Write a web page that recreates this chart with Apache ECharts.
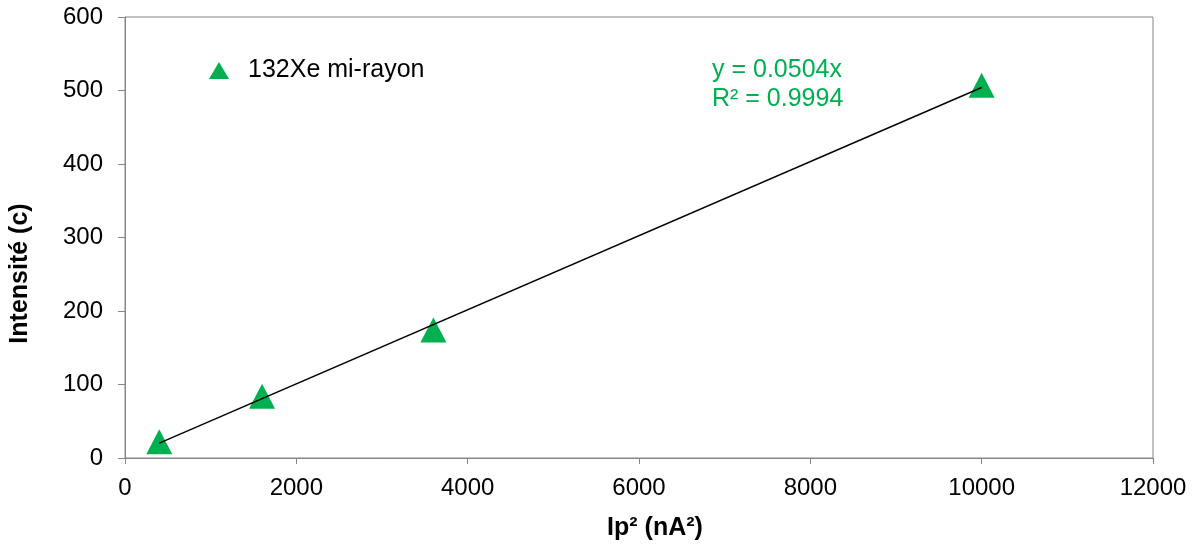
<!DOCTYPE html>
<html><head><meta charset="utf-8">
<script src="https://cdn.jsdelivr.net/npm/echarts@6/dist/echarts.min.js"></script>
<style>html,body{margin:0;padding:0;background:#fff}#c{width:1199px;height:546px}</style>
</head><body><div id="c"></div>
<script>
const seriesName = '132Xe mi-rayon';
const xValues = [400, 1600, 3600, 10000];
const yValues = [22, 84, 174, 507];
const trendSlope = 0.0504;
const trendRange = [400, 10000];
const equationLines = ['y = 0.0504x', 'R² = 0.9994'];
const xTicks = [0, 2000, 4000, 6000, 8000, 10000, 12000];
const yTicks = [0, 100, 200, 300, 400, 500, 600];

const green = '#00B050';
const axisGray = '#868686';
const font = '"Liberation Sans", Arial, sans-serif';

const chart = echarts.init(document.getElementById('c'), null, {renderer: 'canvas'});
const points = xValues.map((x, i) => [x, yValues[i]]);
const trend = trendRange.map(x => [x, trendSlope * x]);

chart.setOption({
  animation: false,
  textStyle: {fontFamily: font},
  grid: {left: 123, right: 46, top: 17, bottom: 88, show: true, borderColor: axisGray, borderWidth: 1},
  legend: {
    left: 204, top: 53, icon: 'triangle', itemWidth: 20, itemHeight: 17,
    data: [seriesName],
    textStyle: {fontSize: 25, color: '#000', fontFamily: font, padding: [0, 0, 0, 14]}
  },
  xAxis: {
    type: 'value', min: xTicks[0], max: xTicks[xTicks.length - 1], interval: 2000,
    name: 'Ip² (nA²)', nameLocation: 'middle', nameGap: 58,
    nameTextStyle: {fontSize: 25, fontWeight: 'bold', color: '#000', fontFamily: font, padding: [0, 0, 0, 32]},
    axisLine: {lineStyle: {color: axisGray, width: 1}},
    axisTick: {show: true, length: 6, lineStyle: {color: axisGray}},
    axisLabel: {fontSize: 24, color: '#000', margin: 18, fontFamily: font, formatter: v => String(v)},
    splitLine: {show: false}
  },
  yAxis: {
    type: 'value', min: yTicks[0], max: yTicks[yTicks.length - 1], interval: 100,
    name: 'Intensité (c)', nameLocation: 'middle', nameGap: 92,
    nameTextStyle: {fontSize: 25, fontWeight: 'bold', color: '#000', fontFamily: font, padding: [0, 72, 0, 0]},
    axisLine: {show: true, lineStyle: {color: axisGray, width: 1}},
    axisTick: {show: true, length: 7, lineStyle: {color: axisGray}},
    axisLabel: {fontSize: 24, color: '#000', margin: 22, fontFamily: font, formatter: v => String(v)},
    splitLine: {show: false}
  },
  series: [
    {
      name: 'trend', type: 'line', data: trend, symbol: 'none',
      lineStyle: {color: '#000', width: 1.5}, silent: true, z: 3
    },
    {
      name: seriesName, type: 'scatter', data: points, symbol: 'triangle',
      symbolSize: [26, 25], itemStyle: {color: green, opacity: 1}, z: 2
    }
  ],
  graphic: [{
    type: 'text', left: 712, top: 56,
    style: {text: equationLines.join('\n'), fill: green, font: '25px ' + font, lineHeight: 29}
  }]
});
</script></body></html>
